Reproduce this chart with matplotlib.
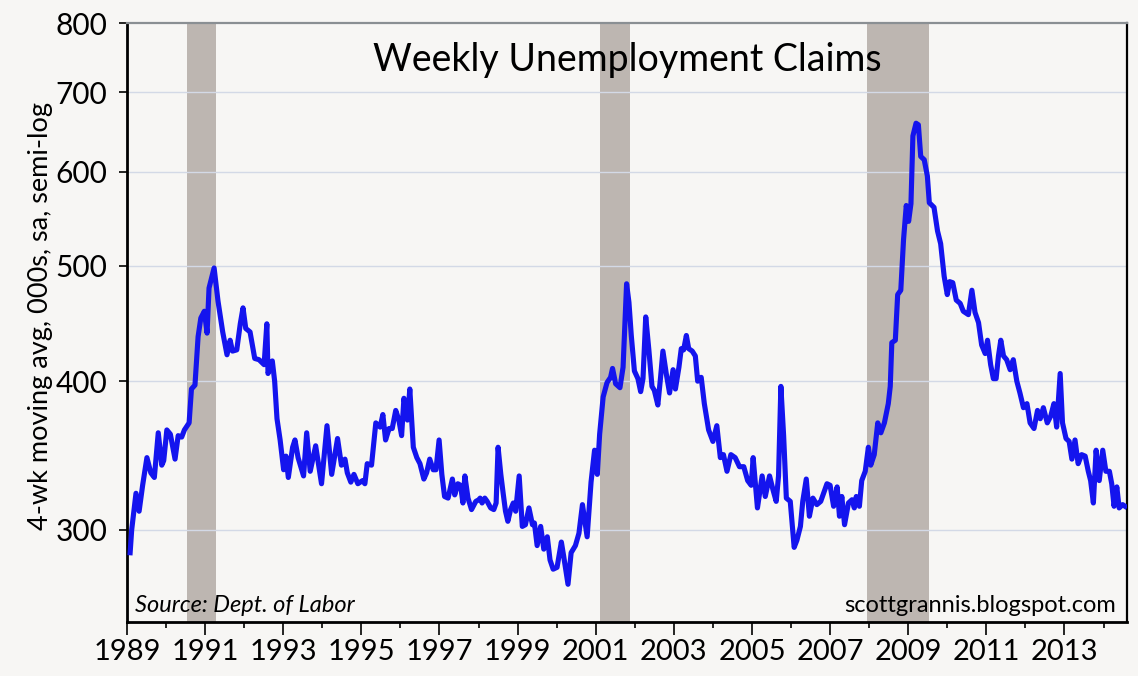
import matplotlib
matplotlib.use("Agg")
import matplotlib.pyplot as plt
from matplotlib.ticker import FixedLocator, NullLocator, FixedFormatter

plt.rcParams['font.family'] = ['Lato', 'DejaVu Sans']

# DATA: decimal year, 4-wk avg claims in 000s
years = [
    1989.08, 1989.12, 1989.19, 1989.23, 1989.31, 1989.40, 1989.51, 1989.61, 1989.70, 1989.80,
    1989.89, 1989.94, 1990.02, 1990.11, 1990.23, 1990.31, 1990.40, 1990.47, 1990.59, 1990.65,
    1990.74, 1990.82, 1990.89, 1990.98, 1991.05, 1991.10, 1991.23, 1991.33, 1991.45, 1991.56,
    1991.64, 1991.70, 1991.81, 1991.90, 1991.97, 1992.04, 1992.15, 1992.27, 1992.38, 1992.51,
    1992.58, 1992.61, 1992.72, 1992.78, 1992.84, 1992.92, 1993.01, 1993.07, 1993.13, 1993.24,
    1993.30, 1993.38, 1993.52, 1993.60, 1993.69, 1993.83, 1993.98, 1994.12, 1994.24, 1994.39,
    1994.49, 1994.58, 1994.64, 1994.73, 1994.81, 1994.91, 1995.03, 1995.09, 1995.15, 1995.26,
    1995.37, 1995.48, 1995.55, 1995.62, 1995.71, 1995.79, 1995.88, 1995.96, 1996.03, 1996.09,
    1996.18, 1996.24, 1996.33, 1996.42, 1996.50, 1996.60, 1996.67, 1996.75, 1996.84, 1996.91,
    1996.99, 1997.06, 1997.13, 1997.22, 1997.33, 1997.39, 1997.47, 1997.54, 1997.60, 1997.65,
    1997.73, 1997.82, 1997.93, 1998.01, 1998.04, 1998.09, 1998.16, 1998.22, 1998.31, 1998.39,
    1998.45, 1998.50, 1998.57, 1998.63, 1998.69, 1998.75, 1998.82, 1998.89, 1998.95, 1999.04,
    1999.12, 1999.20, 1999.29, 1999.38, 1999.43, 1999.50, 1999.59, 1999.67, 1999.76, 1999.83,
    1999.91, 2000.01, 2000.12, 2000.18, 2000.29, 2000.37, 2000.48, 2000.57, 2000.66, 2000.78,
    2000.88, 2000.97, 2001.04, 2001.10, 2001.19, 2001.29, 2001.38, 2001.43, 2001.51, 2001.62,
    2001.70, 2001.79, 2001.85, 2001.91, 2001.99, 2002.08, 2002.15, 2002.21, 2002.28, 2002.36,
    2002.44, 2002.50, 2002.59, 2002.66, 2002.72, 2002.81, 2002.89, 2002.98, 2003.04, 2003.13,
    2003.19, 2003.25, 2003.32, 2003.38, 2003.47, 2003.55, 2003.61, 2003.70, 2003.78, 2003.89,
    2004.00, 2004.10, 2004.19, 2004.27, 2004.36, 2004.46, 2004.57, 2004.68, 2004.79, 2004.89,
    2004.98, 2005.03, 2005.14, 2005.26, 2005.34, 2005.45, 2005.54, 2005.62, 2005.68, 2005.74,
    2005.81, 2005.88, 2005.98, 2006.08, 2006.15, 2006.24, 2006.30, 2006.39, 2006.47, 2006.56,
    2006.66, 2006.76, 2006.92, 2007.00, 2007.09, 2007.18, 2007.24, 2007.30, 2007.37, 2007.47,
    2007.56, 2007.62, 2007.67, 2007.75, 2007.81, 2007.90, 2007.98, 2008.04, 2008.13, 2008.22,
    2008.30, 2008.39, 2008.49, 2008.54, 2008.58, 2008.67, 2008.73, 2008.81, 2008.88, 2008.95,
    2009.01, 2009.07, 2009.12, 2009.20, 2009.26, 2009.32, 2009.41, 2009.49, 2009.54, 2009.66,
    2009.75, 2009.83, 2009.92, 2010.00, 2010.06, 2010.14, 2010.23, 2010.33, 2010.41, 2010.54,
    2010.63, 2010.71, 2010.80, 2010.88, 2010.97, 2011.03, 2011.11, 2011.18, 2011.25, 2011.31,
    2011.37, 2011.44, 2011.52, 2011.61, 2011.69, 2011.78, 2011.86, 2011.95, 2012.04, 2012.12,
    2012.22, 2012.31, 2012.38, 2012.46, 2012.56, 2012.65, 2012.73, 2012.80, 2012.89, 2012.95,
    2013.04, 2013.12, 2013.19, 2013.27, 2013.35, 2013.44, 2013.53, 2013.61, 2013.67, 2013.74,
    2013.81, 2013.89, 2013.98, 2014.06, 2014.15, 2014.21, 2014.27, 2014.34, 2014.40, 2014.49,
    2014.55,
]
claims = [
    287, 300, 314, 322, 311, 327, 345, 335, 332, 362,
    340, 343, 364, 361, 344, 360, 359, 364, 369, 394,
    397, 436, 452, 458, 439, 479, 498, 467, 440, 421,
    433, 424, 425, 447, 461, 443, 440, 418, 417, 413,
    447, 406, 416, 400, 372, 357, 337, 346, 332, 352,
    357, 345, 333, 362, 336, 353, 328, 367, 334, 358,
    340, 344, 335, 329, 334, 328, 330, 328, 341, 340,
    369, 366, 375, 357, 365, 365, 378, 371, 360, 387,
    371, 394, 352, 345, 341, 331, 335, 344, 337, 337,
    357, 334, 320, 319, 331, 321, 328, 327, 316, 333,
    319, 312, 317, 318, 319, 316, 319, 317, 313, 312,
    316, 352, 334, 322, 311, 305, 312, 316, 311, 333,
    302, 303, 313, 303, 304, 291, 302, 289, 296, 283,
    278, 279, 293, 285, 270, 287, 291, 298, 315, 296,
    329, 350, 334, 361, 388, 399, 403, 410, 398, 395,
    411, 483, 466, 437, 408, 402, 392, 402, 453, 425,
    396, 393, 382, 403, 424, 405, 391, 409, 394, 411,
    426, 425, 437, 426, 424, 420, 400, 403, 383, 364,
    356, 367, 345, 347, 336, 347, 345, 339, 339, 330,
    327, 345, 313, 333, 320, 333, 324, 317, 333, 396,
    360, 319, 317, 290, 294, 302, 317, 331, 308, 319,
    315, 317, 328, 327, 314, 326, 308, 320, 303, 316,
    318, 313, 320, 314, 330, 336, 352, 340, 347, 369,
    362, 369, 383, 396, 431, 433, 473, 477, 526, 562,
    545, 564, 643, 659, 657, 618, 614, 595, 565, 560,
    535, 522, 490, 473, 485, 484, 468, 465, 458, 455,
    477, 457, 448, 429, 422, 433, 413, 402, 402, 420,
    433, 420, 417, 409, 417, 400, 391, 380, 383, 369,
    365, 378, 372, 380, 369, 374, 383, 366, 406, 369,
    358, 356, 344, 357, 341, 347, 346, 336, 330, 316,
    350, 330, 350, 336, 336, 328, 314, 326, 313, 315,
    314,
]

# recessions (start, end)
rec_start = [1990.53, 2001.10, 2007.94]
rec_end = [1991.28, 2001.87, 2009.54]

yticks = [300, 400, 500, 600, 700, 800]
xmajor = list(range(1989, 2015, 2))
xminor = list(range(1990, 2015, 2))

bg = '#f7f6f4'

fig = plt.figure(figsize=(11.38, 6.76), dpi=100, facecolor=bg)
ax = fig.add_axes([0.1116, 0.0799, 0.8787, 0.886])
ax.set_facecolor(bg)

for s, e in zip(rec_start, rec_end):
    ax.axvspan(s, e, color='#bdb6b1', lw=0, zorder=1)

ax.set_yscale('log')
ax.set_ylim(251, 800)
ax.set_xlim(1989, 2014.6)

for v in yticks[:-1]:
    ax.axhline(v, color='#d3d9e6', lw=1.0, zorder=2)

ax.plot(years, claims, color='#1414ee', lw=3.7, zorder=3)

ax.yaxis.set_major_locator(FixedLocator(yticks))
ax.yaxis.set_major_formatter(FixedFormatter([str(v) for v in yticks]))
ax.yaxis.set_minor_locator(NullLocator())
ax.xaxis.set_major_locator(FixedLocator(xmajor))
ax.xaxis.set_minor_locator(FixedLocator(xminor))
ax.set_xticklabels([str(y) for y in xmajor])

ax.tick_params(axis='y', which='major', direction='out', length=6, width=1.2,
               labelsize=21.5, pad=8)
ax.tick_params(axis='x', which='major', direction='out', length=9, width=1.2,
               labelsize=21, pad=3)
ax.tick_params(axis='x', which='minor', direction='out', length=4, width=1.2)

for side in ['left', 'bottom']:
    ax.spines[side].set_linewidth(2.0)
    ax.spines[side].set_color('black')
ax.spines['right'].set_linewidth(1.6)
ax.spines['right'].set_color('black')
ax.spines['top'].set_linewidth(1.6)
ax.spines['top'].set_color('#8a8f93')

ax.text(0.5, 0.968, 'Weekly Unemployment Claims', transform=ax.transAxes,
        ha='center', va='top', fontsize=27, zorder=5)
ax.text(0.008, 0.017, 'Source: Dept. of Labor', transform=ax.transAxes,
        ha='left', va='baseline', fontsize=17, style='italic', zorder=5)
ax.text(0.989, 0.017, 'scottgrannis.blogspot.com', transform=ax.transAxes,
        ha='right', va='baseline', fontsize=17, zorder=5)

fig.text(0.036, 0.533, '4-wk moving avg, 000s, sa, semi-log', rotation=90,
         ha='center', va='center', fontsize=19.5)

fig.savefig('out.png', dpi=100, facecolor=bg)
